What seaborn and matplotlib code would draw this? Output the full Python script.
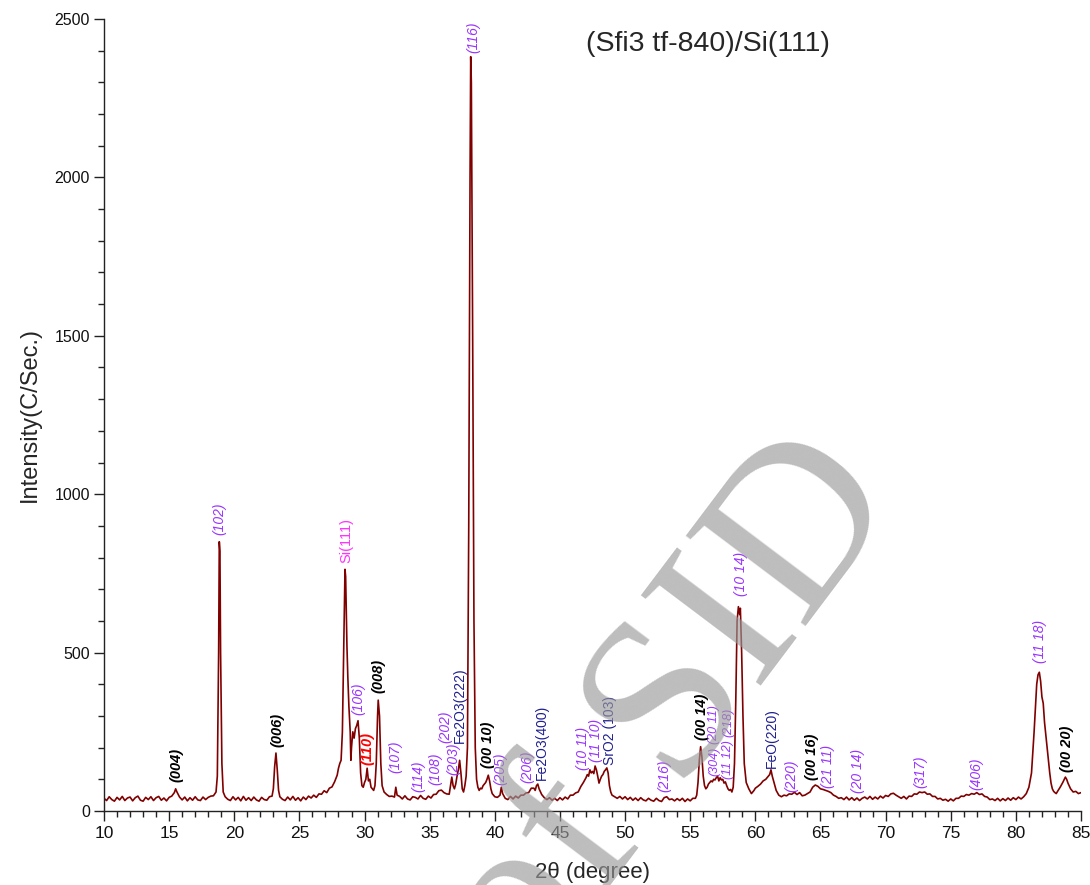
import matplotlib
matplotlib.use("Agg")
import matplotlib.pyplot as plt
import seaborn as sns
import pandas as pd
from matplotlib.ticker import MultipleLocator

# ---------------- data ----------------
two_theta = [
    10.0, 10.2, 10.4, 10.6, 10.8, 11.0, 11.2, 11.4, 11.6, 11.8, 12.0, 12.2, 12.4, 12.6, 12.8,
    13.0, 13.2, 13.4, 13.6, 13.8, 14.0, 14.2, 14.4, 14.6, 14.8, 15.0, 15.2, 15.4, 15.5, 15.6,
    15.8, 16.0, 16.2, 16.4, 16.6, 16.8, 17.0, 17.2, 17.4, 17.6, 17.8, 18.0, 18.2, 18.4, 18.6,
    18.7, 18.8, 18.85, 18.9, 18.95, 19.05, 19.15, 19.3, 19.5, 19.7, 19.9, 20.1, 20.3, 20.5,
    20.7, 20.9, 21.1, 21.3, 21.5, 21.7, 21.9, 22.1, 22.3, 22.5, 22.7, 22.9, 23.0, 23.1, 23.2,
    23.3, 23.4, 23.5, 23.7, 23.9, 24.1, 24.3, 24.5, 24.7, 24.9, 25.1, 25.3, 25.5, 25.7, 25.9,
    26.1, 26.3, 26.5, 26.7, 26.9, 27.1, 27.3, 27.5, 27.7, 27.9, 28.0, 28.1, 28.2, 28.3, 28.4,
    28.5, 28.55, 28.65, 28.72, 28.8, 28.9, 28.95, 29.0, 29.1, 29.2, 29.3, 29.4, 29.5, 29.6,
    29.7, 29.8, 29.9, 30.0, 30.1, 30.2, 30.3, 30.4, 30.5, 30.6, 30.7, 30.8, 30.9, 31.0, 31.05,
    31.15, 31.25, 31.35, 31.5, 31.7, 31.9, 32.1, 32.3, 32.4, 32.5, 32.7, 32.9, 33.1, 33.3,
    33.5, 33.7, 33.9, 34.1, 34.3, 34.5, 34.7, 34.9, 35.1, 35.3, 35.5, 35.7, 35.9, 36.1, 36.3,
    36.5, 36.7, 36.8, 36.9, 37.0, 37.1, 37.2, 37.3, 37.4, 37.5, 37.6, 37.7, 37.8, 37.9, 38.0,
    38.1, 38.15, 38.2, 38.3, 38.4, 38.5, 38.6, 38.7, 38.8, 38.9, 39.0, 39.1, 39.2, 39.3, 39.4,
    39.5, 39.6, 39.7, 39.8, 40.0, 40.2, 40.4, 40.5, 40.6, 40.8, 41.0, 41.2, 41.4, 41.6, 41.8,
    42.0, 42.2, 42.4, 42.6, 42.8, 43.0, 43.1, 43.2, 43.3, 43.4, 43.6, 43.8, 44.0, 44.2, 44.4,
    44.6, 44.8, 45.0, 45.2, 45.4, 45.6, 45.8, 46.0, 46.2, 46.4, 46.6, 46.8, 47.0, 47.1, 47.2,
    47.3, 47.4, 47.5, 47.6, 47.7, 47.8, 47.9, 48.0, 48.1, 48.2, 48.3, 48.4, 48.5, 48.6, 48.7,
    48.8, 48.9, 49.0, 49.2, 49.4, 49.6, 49.8, 50.0, 50.2, 50.4, 50.6, 50.8, 51.0, 51.2, 51.4,
    51.6, 51.8, 52.0, 52.2, 52.4, 52.6, 52.8, 53.0, 53.2, 53.4, 53.6, 53.8, 54.0, 54.2, 54.4,
    54.6, 54.8, 55.0, 55.2, 55.4, 55.5, 55.6, 55.7, 55.8, 55.9, 56.0, 56.1, 56.2, 56.3, 56.4,
    56.5, 56.6, 56.7, 56.8, 56.9, 57.0, 57.1, 57.2, 57.3, 57.4, 57.5, 57.6, 57.7, 57.8, 57.9,
    58.0, 58.1, 58.2, 58.3, 58.4, 58.5, 58.6, 58.7, 58.8, 58.85, 58.95, 59.05, 59.15, 59.3,
    59.5, 59.7, 59.8, 59.9, 60.0, 60.2, 60.4, 60.6, 60.8, 61.0, 61.1, 61.2, 61.3, 61.4, 61.5,
    61.6, 61.8, 62.0, 62.2, 62.4, 62.6, 62.8, 63.0, 63.2, 63.4, 63.6, 63.8, 64.0, 64.2, 64.4,
    64.6, 64.8, 65.0, 65.2, 65.4, 65.6, 65.8, 66.0, 66.2, 66.4, 66.6, 66.8, 67.0, 67.2, 67.4,
    67.6, 67.8, 68.0, 68.2, 68.4, 68.6, 68.8, 69.0, 69.2, 69.4, 69.6, 69.8, 70.0, 70.2, 70.4,
    70.6, 70.8, 71.0, 71.2, 71.4, 71.6, 71.8, 72.0, 72.2, 72.4, 72.6, 72.8, 73.0, 73.2, 73.4,
    73.6, 73.8, 74.0, 74.2, 74.4, 74.6, 74.8, 75.0, 75.2, 75.4, 75.6, 75.8, 76.0, 76.2, 76.4,
    76.6, 76.8, 77.0, 77.2, 77.4, 77.6, 77.8, 78.0, 78.2, 78.4, 78.6, 78.8, 79.0, 79.2, 79.4,
    79.6, 79.8, 80.0, 80.2, 80.4, 80.6, 80.8, 81.0, 81.2, 81.4, 81.6, 81.7, 81.8, 81.9, 82.0,
    82.1, 82.2, 82.3, 82.4, 82.5, 82.6, 82.7, 82.8, 82.9, 83.0, 83.1, 83.2, 83.4, 83.6, 83.8,
    83.9, 84.0, 84.2, 84.4, 84.6, 84.8, 85.0,
]
intensity = [
    40, 33, 45, 36, 31, 43, 35, 46, 33, 41, 44, 32, 42, 47, 34,
    31, 43, 36, 45, 33, 42, 46, 34, 41, 32, 43, 47, 58, 70, 60,
    44, 35, 44, 32, 42, 34, 45, 35, 33, 44, 36, 43, 47, 48, 60,
    110, 500, 850, 820, 500, 150, 60, 45, 37, 33, 45, 35, 43, 32,
    46, 34, 42, 33, 44, 35, 31, 43, 36, 34, 45, 47, 70, 140, 183,
    130, 65, 45, 37, 33, 44, 35, 46, 34, 42, 32, 44, 36, 47, 41,
    50, 43, 54, 53, 64, 58, 72, 76, 92, 113, 135, 150, 160, 250, 500,
    763, 740, 520, 420, 330, 250, 160, 200, 250, 230, 260, 270, 285, 230,
    120, 80, 75, 90, 100, 135, 95, 100, 75, 70, 65, 80, 150, 300, 350,
    300, 150, 80, 60, 52, 46, 47, 44, 75, 50, 46, 38, 48, 38,
    35, 45, 43, 38, 49, 40, 37, 47, 41, 52, 53, 64, 66, 58, 54,
    53, 107, 80, 70, 85, 110, 130, 160, 120, 70, 60, 80, 110, 200, 900,
    2000, 2381, 2300, 1500, 600, 200, 100, 75, 65, 72, 70, 80, 85, 90, 100,
    113, 95, 70, 55, 45, 43, 50, 75, 55, 40, 36, 46, 38, 47, 41,
    50, 50, 57, 58, 72, 72, 65, 80, 85, 70, 52, 42, 36, 42, 34,
    40, 33, 42, 35, 44, 38, 50, 50, 57, 60, 77, 90, 105, 115, 110,
    130, 120, 125, 118, 142, 130, 110, 88, 100, 110, 115, 125, 130, 136, 120,
    80, 60, 50, 45, 40, 46, 38, 45, 36, 43, 34, 41, 33, 42, 35,
    32, 40, 34, 31, 40, 33, 30, 42, 45, 36, 38, 32, 39, 33, 40,
    30, 38, 32, 40, 40, 50, 90, 160, 203, 170, 110, 80, 70, 75, 85,
    90, 95, 92, 100, 98, 105, 110, 95, 105, 98, 100, 88, 92, 80, 70,
    65, 68, 60, 75, 150, 350, 600, 645, 620, 640, 500, 300, 150, 90,
    70, 55, 60, 65, 72, 78, 85, 95, 100, 110, 115, 130, 110, 95, 80,
    65, 50, 45, 50, 48, 54, 53, 59, 52, 58, 48, 50, 55, 60, 75,
    82, 78, 70, 68, 65, 62, 58, 50, 46, 40, 42, 36, 44, 35, 42,
    34, 41, 33, 40, 44, 38, 46, 37, 44, 38, 47, 41, 49, 46, 54,
    56, 50, 45, 40, 46, 38, 47, 46, 54, 53, 60, 58, 60, 53, 54,
    46, 46, 38, 40, 34, 37, 31, 38, 32, 40, 40, 47, 46, 52, 50,
    55, 53, 58, 52, 54, 46, 44, 36, 38, 33, 40, 32, 39, 33, 41,
    34, 42, 36, 44, 38, 45, 55, 75, 120, 250, 400, 430, 438, 410, 360,
    340, 280, 240, 200, 160, 120, 88, 70, 62, 58, 55, 62, 75, 90, 107,
    100, 88, 70, 60, 62, 55, 58,
]

# peak labels
label_text = ["(004)", "(102)", "(006)", "Si(111)", "(106)", "(110)", "(008)", "(107)",
              "(114)", "(108)", "(202)", "(203)", "Fe2O3(222)", "(116)", "(00 10)", "(205)",
              "(206)", "Fe2O3(400)", "(10 11)", "(11 10)", "SrO2 (103)", "(216)", "(00 14)",
              "(304)", "(20 11)", "(11 12)", "(218)", "(10 14)", "FeO(220)", "(220)",
              "(00 16)", "(21 11)", "(20 14)", "(317)", "(406)", "(11 18)", "(00 20)"]
label_x = [15.6, 18.85, 23.35, 28.6, 29.5, 30.25, 31.05, 32.35,
           34.1, 35.4, 36.2, 36.8, 37.35, 38.35, 39.5, 40.4,
           42.5, 43.6, 46.8, 47.75, 48.85, 53.0, 55.9,
           56.85, 56.85, 57.9, 57.9, 58.9, 61.3, 62.8,
           64.35, 65.6, 67.9, 72.7, 77.0, 81.85, 83.9]
label_y = [92, 871, 202, 783, 303, 145, 372, 120,
           60, 82, 214, 113, 214, 2393, 136, 82,
           88, 98, 129, 155, 145, 60, 224,
           112, 210, 100, 235, 678, 136, 60,
           98, 73, 57, 73, 66, 467, 123]
label_kind = ["h", "p", "h", "s", "p", "r", "h", "p",
              "p", "p", "p", "p", "b", "p", "h", "p",
              "p", "b", "p", "p", "b", "p", "h",
              "q", "q", "q", "q", "p", "b", "p",
              "h", "p", "p", "p", "p", "p", "h"]

title_text = "(Sfi3 tf-840)/Si(111)"
x_label = "2θ (degree)"
y_label = "Intensity(C/Sec.)"

# ---------------- styles ----------------
kind_style = {
    "p": dict(color="#9933ff", fontweight="normal", fontstyle="italic", fontsize=10),
    "q": dict(color="#9933ff", fontweight="normal", fontstyle="italic", fontsize=9),
    "h": dict(color="#000000", fontweight="bold", fontstyle="italic", fontsize=10.5),
    "r": dict(color="#ff0000", fontweight="bold", fontstyle="italic", fontsize=10.5),
    "b": dict(color="#1f1f8f", fontweight="normal", fontstyle="normal", fontsize=10),
    "s": dict(color="#ff33ff", fontweight="normal", fontstyle="normal", fontsize=10.5),
}

sns.set_style("ticks")
plt.rcParams["font.family"] = ["Liberation Sans", "DejaVu Sans"]

fig = plt.figure(figsize=(10.9, 8.85), dpi=100)
ax = fig.add_axes([104 / 1090, 1 - 811 / 885, (1081 - 104) / 1090, (811 - 19) / 885])

df = pd.DataFrame({"tt": two_theta, "I": intensity})
sns.lineplot(data=df, x="tt", y="I", color="#800000", linewidth=1.2,
             estimator=None, sort=False, ax=ax)

ax.set_xlim(10, 85)
ax.set_ylim(0, 2500)
ax.xaxis.set_major_locator(MultipleLocator(5))
ax.xaxis.set_minor_locator(MultipleLocator(1))
ax.yaxis.set_major_locator(MultipleLocator(500))
ax.yaxis.set_minor_locator(MultipleLocator(100))
ax.tick_params(axis="both", which="major", direction="out", length=7, width=1,
               color="#222222")
ax.tick_params(axis="both", which="minor", direction="out", length=4, width=1,
               color="#222222")
ax.tick_params(axis="x", which="major", labelsize=12.5, pad=4, labelcolor="#111111")
ax.tick_params(axis="y", which="major", labelsize=11.5, pad=3, labelcolor="#111111")
for side in ("top", "right"):
    ax.spines[side].set_visible(False)
for side in ("left", "bottom"):
    ax.spines[side].set_color("#222222")
    ax.spines[side].set_linewidth(1.0)

ax.set_xlabel(x_label, fontsize=16, labelpad=15)
ax.set_ylabel(y_label, fontsize=17, labelpad=10)

for t, x, y, k in zip(label_text, label_x, label_y, label_kind):
    ax.text(x, y, t, rotation=90, ha="center", va="bottom", **kind_style[k])

ax.text(0.618, 0.968, title_text, transform=ax.transAxes, ha="center", va="center",
        fontsize=20.5)

# grey watermark lying over the chart
fig.text(672 / 1090, 1 - 712 / 885, "of SID", rotation=53, ha="center", va="center",
         rotation_mode="anchor", fontsize=165, family="Liberation Serif",
         color="#9a9a9a", alpha=0.65)

fig.savefig("out.png", dpi=100)
